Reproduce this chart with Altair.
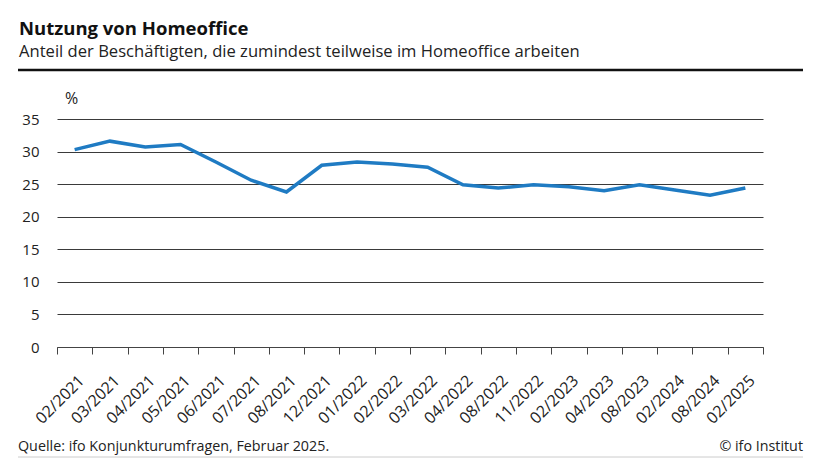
import altair as alt
import pandas as pd

categories = ["02/2021", "03/2021", "04/2021", "05/2021", "06/2021", "07/2021",
              "08/2021", "12/2021", "01/2022", "02/2022", "03/2022", "04/2022",
              "08/2022", "11/2022", "02/2023", "04/2023", "08/2023", "02/2024",
              "08/2024", "02/2025"]
values = [30.3, 31.6, 30.7, 31.1, 28.4, 25.6, 23.8, 27.9, 28.4, 28.1, 27.6, 24.9,
          24.4, 24.9, 24.6, 24.0, 24.9, 24.1, 23.3, 24.4]
y_ticks = [0, 5, 10, 15, 20, 25, 30, 35]

title = "Nutzung von Homeoffice"
subtitle = "Anteil der Beschäftigten, die zumindest teilweise im Homeoffice arbeiten"
source = "Quelle: ifo Konjunkturumfragen, Februar 2025."
copyright_txt = "© ifo Institut"

n = len(categories)
df = pd.DataFrame({"pos": [i + 0.5 for i in range(n)], "cat": categories, "val": values})

FONT = "Open Sans"
W, H = 706, 228

xscale = alt.Scale(domain=[0, n], nice=False, zero=False)
yscale = alt.Scale(domain=[0, 35], nice=False)

label_expr = "[" + ",".join("'%s'" % c for c in categories) + "][floor(datum.value)]"

line = alt.Chart(df).mark_line(color="#1f7bc3", strokeWidth=3.5).encode(
    x=alt.X("pos:Q", scale=xscale,
            axis=alt.Axis(values=list(range(n + 1)), labels=False, ticks=True,
                          tickSize=7, tickColor="#444", domainColor="#444",
                          grid=False, title=None, orient="bottom")),
    y=alt.Y("val:Q", scale=yscale,
            axis=alt.Axis(values=y_ticks, grid=True, gridColor="#3a3a3a", gridWidth=1,
                          domain=False, ticks=False, labelPadding=18,
                          labelFont=FONT, labelFontSize=15, labelColor="#222",
                          title=None)),
)

labels_layer = alt.Chart(df).mark_point(opacity=0).encode(
    x=alt.X("pos:Q", scale=xscale,
            axis=alt.Axis(values=[i + 0.5 for i in range(n)], labelExpr=label_expr,
                          labelAngle=315, labelAlign="right", labelBaseline="top",
                          labelPadding=25, labelOffset=1, ticks=False, domain=False,
                          grid=False, labelFont=FONT, labelFontSize=16,
                          labelColor="#222", title=None, orient="bottom",
                          labelOverlap=False)),
    y=alt.value(0),
)

one = pd.DataFrame({"a": [0]})

def txt(text, x, y, size, weight="normal", align="left", color="#111"):
    return alt.Chart(one).mark_text(text=text, font=FONT, fontSize=size,
                                    fontWeight=weight, align=align,
                                    baseline="alphabetic", color=color).encode(
        x=alt.value(x), y=alt.value(y))

t_title = txt(title, -38, -84, 18.5, weight="bold")
t_sub = txt(subtitle, -38, -62.5, 16.6, color="#222")
t_pct = txt("%", 8, -15, 16, color="#222")
t_src = txt(source, -39, 331.5, 14.3, color="#222")
t_copy = txt(copyright_txt, 746, 331.5, 14.3, align="right", color="#222")

rule_top = alt.Chart(one).mark_rule(color="#111", strokeWidth=2.5).encode(
    x=alt.value(-39), x2=alt.value(746), y=alt.value(-49))
rule_bot = alt.Chart(one).mark_rule(color="#ccc", strokeWidth=1).encode(
    x=alt.value(-39), x2=alt.value(746), y=alt.value(338))

chart = alt.layer(line, labels_layer, rule_top, rule_bot, t_title, t_sub, t_pct,
                  t_src, t_copy).resolve_axis(x="independent").properties(
    width=W, height=H,
    background="white",
    autosize=alt.AutoSizeParams(type="none"),
    padding={"left": 49, "top": 111, "right": 55, "bottom": 111},
).configure_view(strokeWidth=0)

chart.save("out.html", embed_options={"renderer": "svg", "actions": False})
